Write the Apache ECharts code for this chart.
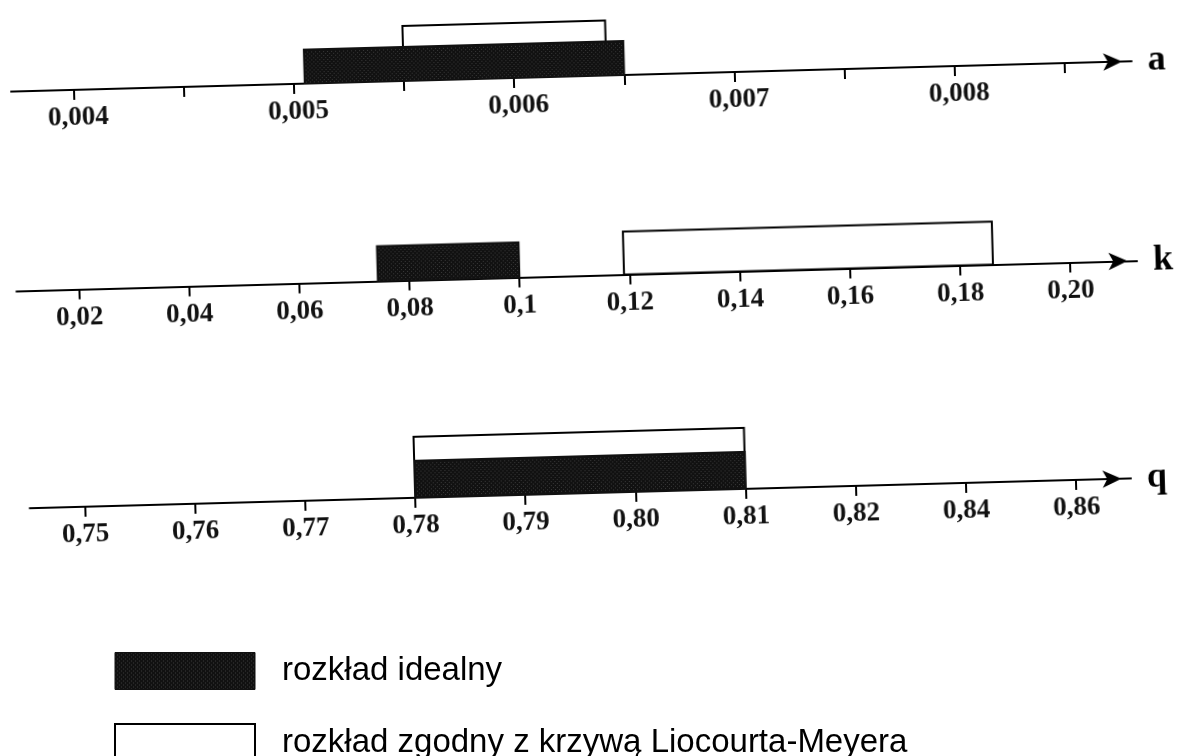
<!DOCTYPE html>
<html>
<head>
<meta charset="utf-8">
<script src="https://cdn.jsdelivr.net/npm/echarts@6/dist/echarts.min.js"></script>
<style>
html, body { margin: 0; padding: 0; background: #fff; overflow: hidden; width: 1182px; height: 756px; }
#axes { position: absolute; left: 0; top: 0; width: 1182px; height: 756px; }
#key { position: absolute; left: 0; top: 0; width: 1182px; height: 820px; pointer-events: none; }
/* the scanned figure is slightly tilted */
#axes { transform: rotate(-1.55deg); transform-origin: 591px 378px; }
</style>
</head>
<body>
<div id="axes"></div>
<div id="key"></div>
<script>
// axis a
var aTicks = [0.004, 0.0045, 0.005, 0.0055, 0.006, 0.0065, 0.007, 0.0075, 0.008, 0.0085];
var aLabelValues = [0.004, 0.005, 0.006, 0.007, 0.008];
var aLabels = ['0,004', '0,005', '0,006', '0,007', '0,008'];
var aIdeal = [0.00505, 0.0065];
var aLM = [0.0055, 0.00642];

// axis k
var kTicks = [0.02, 0.04, 0.06, 0.08, 0.1, 0.12, 0.14, 0.16, 0.18, 0.20];
var kLabels = ['0,02', '0,04', '0,06', '0,08', '0,1', '0,12', '0,14', '0,16', '0,18', '0,20'];
var kIdeal = [0.0743, 0.1];
var kLM = [0.119, 0.186];

// axis q (ticks evenly spaced, values not)
var qLabels = ['0,75', '0,76', '0,77', '0,78', '0,79', '0,80', '0,81', '0,82', '0,84', '0,86'];
var qIdeal = ['0,78', '0,81'];
var qLM = ['0,78', '0,81'];

var IDEAL_NAME = 'rozkład idealny';
var LM_NAME = 'rozkład zgodny z krzywą Liocourta-Meyera';

// layout (px, before the tilt)
var LINE_START = 19, LINE_END = 1140, FIRST_TICK = 81.5, LAST_TICK = 1073;
var ROW_Y = [76, 275.5, 493];
var IDEAL_H = [34, 35, 37];
var LM_H = [55, 43, 61];
var SERIF = '"Liberation Serif", "Times New Roman", serif';
var SANS = '"Liberation Sans", Arial, sans-serif';

function dotFill() {
  var c = document.createElement('canvas');
  c.width = 4; c.height = 4;
  var ctx = c.getContext('2d');
  ctx.fillStyle = '#111';
  ctx.fillRect(0, 0, 4, 4);
  ctx.fillStyle = '#3a3a3a';
  ctx.fillRect(0, 0, 1, 1);
  ctx.fillRect(2, 2, 1, 1);
  return { image: c, repeat: 'repeat' };
}
var blackFill = dotFill();

function range(ticks) {
  var t0 = ticks[0], t1 = ticks[ticks.length - 1];
  var perPx = (t1 - t0) / (LAST_TICK - FIRST_TICK);
  return { min: t0 - (FIRST_TICK - LINE_START) * perPx, max: t1 + (LINE_END - LAST_TICK) * perPx };
}

function nearest(list, v) {
  var best = 0;
  for (var i = 1; i < list.length; i++) {
    if (Math.abs(list[i] - v) < Math.abs(list[best] - v)) best = i;
  }
  return best;
}

function baseAxis(idx, name) {
  return {
    gridIndex: idx,
    name: name,
    nameLocation: 'end',
    nameGap: 16,
    nameTextStyle: { fontFamily: SERIF, fontWeight: 'bold', fontSize: 36, color: '#000', verticalAlign: 'middle', padding: [0, 0, 8, 0] },
    axisLine: {
      show: true, onZero: false,
      symbol: ['none', 'arrow'], symbolSize: [13, 19], symbolOffset: [0, -9.5],
      lineStyle: { color: '#000', width: 2 }
    },
    axisTick: { show: true, inside: false, length: 10, lineStyle: { color: '#000', width: 2 } },
    axisLabel: { fontFamily: SERIF, fontWeight: 'bold', fontSize: 27, color: '#111', margin: 15 },
    splitLine: { show: false }
  };
}

var aRange = range(aTicks);
var aAxis = baseAxis(0, 'a');
aAxis.type = 'value';
aAxis.min = aRange.min;
aAxis.max = aRange.max;
aAxis.axisTick.customValues = aTicks;
aAxis.axisLabel.customValues = aLabelValues;
aAxis.axisLabel.padding = [0, 0, 0, 8];
aAxis.axisLabel.formatter = function (v) { return aLabels[nearest(aLabelValues, v)]; };

var kRange = range(kTicks);
var kAxis = baseAxis(1, 'k');
kAxis.type = 'value';
kAxis.min = kRange.min;
kAxis.max = kRange.max;
kAxis.axisTick.customValues = kTicks;
kAxis.axisLabel.customValues = kTicks;
kAxis.axisLabel.formatter = function (v) { return kLabels[nearest(kTicks, v)]; };

var qAxis = baseAxis(2, 'q');
qAxis.type = 'category';
qAxis.data = qLabels;
qAxis.boundaryGap = true;
qAxis.axisTick.alignWithLabel = true;
qAxis.axisTick.interval = 0;
qAxis.axisLabel.interval = 0;

var slot = (LAST_TICK - FIRST_TICK) / (qLabels.length - 1);

function barItem(h, fill, stroke) {
  return function (params, api) {
    var p0 = api.coord([api.value(0), 0]);
    var p1 = api.coord([api.value(1), 0]);
    return {
      type: 'rect',
      shape: { x: p0[0], y: p0[1] - h, width: p1[0] - p0[0], height: h },
      style: { fill: fill, stroke: stroke, lineWidth: 2 }
    };
  };
}

function rowSeries(i, lm, ideal) {
  return [
    { type: 'custom', name: LM_NAME, xAxisIndex: i, yAxisIndex: i, clip: false, silent: true,
      renderItem: barItem(LM_H[i], '#fff', '#000'), data: [lm] },
    { type: 'custom', name: IDEAL_NAME, xAxisIndex: i, yAxisIndex: i, clip: false, silent: true,
      renderItem: barItem(IDEAL_H[i], blackFill, '#111'), data: [ideal] }
  ];
}

var qIdx = function (arr) { return [qLabels.indexOf(arr[0]), qLabels.indexOf(arr[1])]; };

var axesChart = echarts.init(document.getElementById('axes'));
axesChart.setOption({
  animation: false,
  backgroundColor: 'transparent',
  grid: [
    { left: LINE_START, width: LINE_END - LINE_START, top: ROW_Y[0] - 70, height: 70, outerBoundsMode: 'none' },
    { left: LINE_START, width: LINE_END - LINE_START, top: ROW_Y[1] - 70, height: 70, outerBoundsMode: 'none' },
    { left: FIRST_TICK - slot / 2, width: slot * qLabels.length, top: ROW_Y[2] - 70, height: 70, outerBoundsMode: 'none' }
  ],
  xAxis: [aAxis, kAxis, qAxis],
  yAxis: [0, 1, 2].map(function (i) {
    return { gridIndex: i, type: 'value', min: 0, max: 1, show: false };
  }),
  series: []
    .concat(rowSeries(0, aLM, aIdeal))
    .concat(rowSeries(1, kLM, kIdeal))
    .concat(rowSeries(2, qIdx(qLM), qIdx(qIdeal)))
});

// key below the axes (not tilted)
var keyChart = echarts.init(document.getElementById('key'));
keyChart.setOption({
  animation: false,
  backgroundColor: 'transparent',
  legend: {
    orient: 'vertical',
    left: 114,
    top: 652,
    padding: 0,
    itemWidth: 140,
    itemHeight: 37,
    itemGap: 33,
    selectedMode: false,
    icon: 'rect',
    textStyle: { fontFamily: SANS, fontSize: 33, color: '#000', lineHeight: 37, padding: [0, 0, 0, 22] },
    data: [
      { name: IDEAL_NAME, itemStyle: { color: blackFill, borderColor: '#111', borderWidth: 1 } },
      { name: LM_NAME, itemStyle: { color: '#fff', borderColor: '#000', borderWidth: 2 } }
    ]
  },
  series: [
    { type: 'custom', name: IDEAL_NAME, coordinateSystem: 'none', renderItem: function () { return null; }, data: [],
      itemStyle: { color: blackFill } },
    { type: 'custom', name: LM_NAME, coordinateSystem: 'none', renderItem: function () { return null; }, data: [],
      itemStyle: { color: '#fff', borderColor: '#000', borderWidth: 2 } }
  ]
});
</script>
</body>
</html>
